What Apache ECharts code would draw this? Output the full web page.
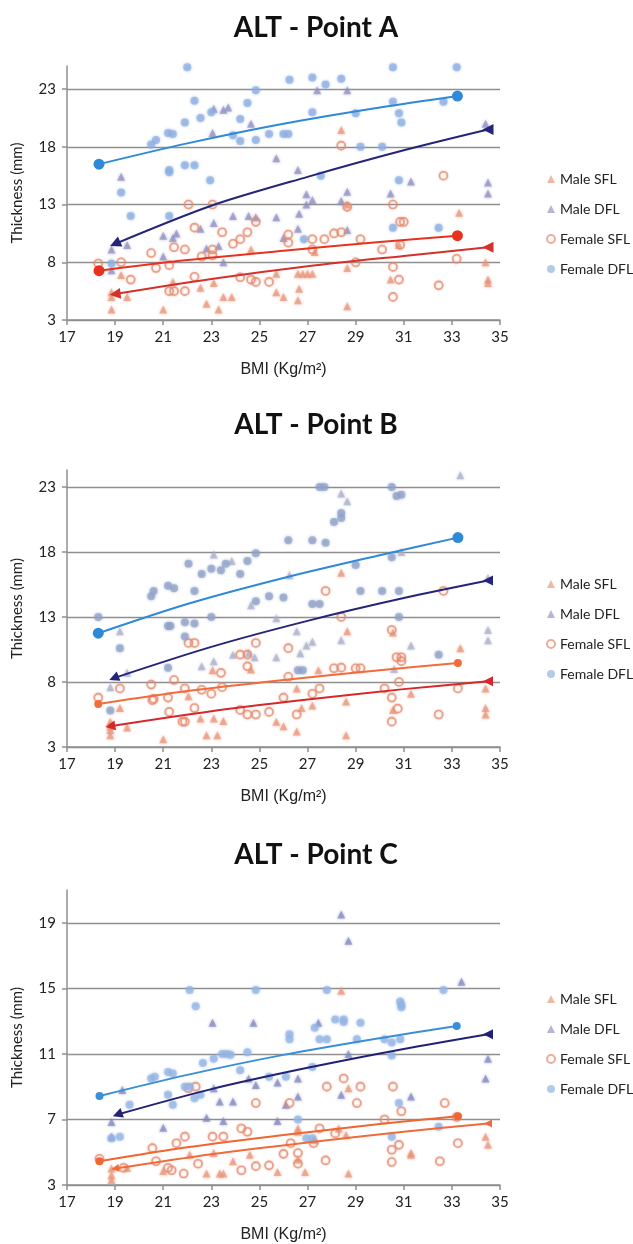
<!DOCTYPE html>
<html>
<head>
<meta charset="utf-8">
<script src="https://cdn.jsdelivr.net/npm/echarts@6/dist/echarts.min.js"></script>
<style>
html,body{margin:0;padding:0;background:#fff;}
#chart{width:633px;height:1244px;}
</style>
</head>
<body>
<div id="chart"></div>
<script>
// ---------- tick labels ----------
const xTicks = [17,19,21,23,25,27,29,31,33,35];
const yTicksAB = [3,8,13,18,23];
const yTicksC = [3,7,11,15,19];
const seriesNames = ['Male SFL','Male DFL','Female SFL','Female DFL'];
const titles = ['ALT - Point A','ALT - Point B','ALT - Point C'];

// ---------- Panel A ----------
const A_maleSFL = [[18.85,3.9],[18.85,5.0],[18.85,5.4],[19.25,6.9],[19.5,5.0],[21.0,3.9],[21.4,6.3],[22.55,5.8],[22.8,4.4],[23.1,6.2],[23.3,3.9],[23.5,5.0],[23.85,5.0],[24.65,9.1],[25.7,5.4],[26.0,5.0],[25.7,7.0],[26.6,4.7],[26.65,5.7],[26.6,7.0],[26.8,7.0],[27.0,7.0],[27.2,7.0],[27.3,8.9],[28.4,19.45],[28.65,7.5],[28.65,4.2],[28.65,13.0],[30.45,6.5],[30.8,9.5],[33.3,12.3],[34.4,8.0],[34.5,6.5],[34.5,6.2]];
const A_maleDFL = [[19.25,15.4],[19.5,9.5],[18.85,9.1],[18.85,7.3],[21.0,8.5],[21.0,10.3],[21.55,10.5],[21.4,10.1],[22.55,10.9],[23.1,11.4],[23.3,9.4],[22.8,9.2],[23.5,8.0],[23.9,12.0],[24.55,12.0],[24.85,11.9],[24.65,20.0],[23.05,19.2],[23.1,21.3],[23.5,21.2],[23.7,21.4],[25.7,11.9],[25.7,17.0],[26.6,16.0],[26.65,12.2],[26.95,13.9],[26.95,13.0],[27.2,13.4],[27.4,22.9],[28.65,22.9],[28.65,14.1],[28.4,13.3],[28.65,10.8],[30.45,13.95],[31.3,15.0],[34.4,20.0],[34.5,14.9],[34.5,13.95],[26.6,10.9],[26.0,10.1]];
const A_femaleSFL = [[18.3,7.9],[19.25,8.0],[19.65,6.5],[20.5,8.8],[20.7,7.5],[21.25,7.75],[21.45,9.3],[21.25,5.5],[21.45,5.5],[21.9,9.1],[21.9,5.5],[22.05,13.0],[22.3,11.0],[22.3,6.75],[22.6,8.5],[23.05,9.1],[23.05,8.6],[23.05,13.0],[23.45,10.6],[23.9,9.6],[24.2,10.0],[24.5,10.6],[24.2,6.7],[24.65,6.5],[24.85,6.3],[24.85,11.5],[25.4,6.3],[26.2,10.4],[26.2,9.7],[27.2,10.0],[27.2,9.1],[27.7,10.0],[28.1,10.5],[28.4,10.6],[28.4,18.1],[28.65,12.8],[29.0,8.0],[29.2,10.0],[30.1,9.1],[30.55,13.0],[30.55,7.6],[30.55,5.0],[30.8,6.5],[30.85,11.5],[31.0,11.5],[30.85,9.5],[32.45,6.0],[32.65,15.5],[33.2,8.3]];
const A_femaleDFL = [[22.0,24.9],[22.3,22.0],[21.9,20.1],[22.55,20.5],[23.0,21.0],[24.5,21.8],[24.2,20.4],[24.85,22.9],[24.85,18.6],[24.2,18.5],[21.2,19.2],[21.4,19.1],[20.5,18.2],[20.7,18.6],[21.25,16.0],[21.25,15.8],[21.9,16.4],[22.3,16.4],[19.25,14.05],[19.65,12.0],[21.25,12.0],[22.95,15.1],[23.9,19.0],[25.4,19.1],[26.0,19.1],[26.2,19.1],[26.25,23.8],[27.2,24.0],[27.75,23.4],[28.4,23.9],[27.2,21.0],[29.0,20.9],[29.2,18.0],[30.1,18.0],[30.55,24.9],[30.55,21.9],[30.8,20.9],[30.9,20.1],[30.8,15.1],[30.55,11.0],[32.45,11.0],[32.65,21.9],[33.2,24.9],[26.85,10.0],[27.55,15.5],[18.85,7.9]];
const A_trendMaleSFL = [[19.0,5.25],[23,6.55],[27,7.65],[31,8.55],[34.5,9.3]];
const A_trendMaleDFL = [[19.0,9.6],[23,12.9],[27,15.4],[31,17.7],[34.5,19.5]];
const A_trendFemaleSFL = [[18.33,7.27],[22,8.2],[26,9.0],[30,9.75],[33.23,10.3]];
const A_trendFemaleDFL = [[18.33,16.5],[22,18.3],[26,20.0],[30,21.4],[33.23,22.4]];

// ---------- Panel B ----------
const B_maleSFL = [[18.8,4.95],[18.8,4.6],[18.8,4.3],[18.8,3.9],[19.2,6.0],[19.5,4.5],[21.0,3.6],[22.05,6.9],[22.55,5.2],[22.8,3.9],[23.25,3.9],[23.1,5.2],[23.5,5.0],[23.05,8.9],[24.65,8.95],[25.7,4.95],[26.0,4.6],[26.55,4.2],[26.55,7.5],[26.75,6.0],[27.2,6.2],[27.45,8.9],[28.4,16.4],[28.65,11.9],[28.6,6.5],[28.6,3.9],[30.55,11.8],[30.55,5.85],[31.3,7.1],[33.35,10.6],[34.4,7.5],[34.4,6.0],[34.4,5.5]];
const B_maleDFL = [[18.8,7.6],[19.2,11.9],[19.5,8.7],[22.6,9.2],[23.1,9.6],[23.1,17.8],[23.85,17.3],[24.65,13.9],[24.55,10.2],[24.8,9.9],[23.9,10.1],[25.7,12.9],[25.7,9.9],[26.25,16.2],[26.55,11.9],[26.7,10.2],[26.95,10.8],[27.2,11.1],[28.4,22.5],[28.65,21.9],[28.4,11.2],[31.3,10.8],[30.9,18.0],[33.35,23.9],[34.5,16.0],[34.5,12.0],[34.5,11.2],[30.6,9.0]];
const B_femaleSFL = [[18.3,6.8],[19.2,7.5],[20.5,7.8],[20.6,6.7],[21.2,6.8],[21.45,8.15],[22.05,11.0],[22.3,11.0],[21.9,7.5],[22.6,7.4],[23.0,7.1],[23.4,8.7],[24.2,10.1],[24.5,10.1],[24.5,9.2],[24.85,11.0],[26.2,10.6],[26.2,8.4],[27.5,7.5],[27.75,15.0],[28.1,9.05],[28.4,9.1],[28.4,13.0],[29.0,9.05],[29.2,9.05],[30.5,12.0],[30.7,9.9],[30.9,9.9],[30.9,9.6],[30.5,6.8],[30.8,8.0],[32.65,15.0],[33.25,7.5],[30.2,7.5],[27.2,7.1],[26.0,6.8],[20.55,6.6],[21.25,5.7],[21.8,4.95],[21.9,4.95],[22.3,6.0],[24.2,5.85],[24.5,5.5],[24.85,5.5],[25.4,5.7],[26.55,5.5],[30.5,4.95],[30.75,5.95],[32.45,5.5],[23.45,7.6]];
const B_femaleDFL = [[18.3,13.0],[19.2,10.6],[20.5,14.6],[20.6,15.0],[21.2,15.4],[21.45,15.2],[21.2,12.3],[21.3,12.3],[21.9,12.6],[21.9,11.5],[22.3,12.5],[22.05,17.1],[22.3,15.0],[22.6,16.3],[23.0,16.7],[23.0,13.0],[23.4,16.6],[23.6,17.1],[24.2,16.3],[24.5,17.3],[24.85,17.9],[24.85,14.2],[25.4,14.6],[26.0,14.5],[26.2,18.9],[27.2,18.9],[27.2,14.0],[27.5,14.0],[27.75,18.7],[27.5,23.0],[27.7,23.0],[28.1,20.3],[28.4,21.0],[28.4,20.6],[29.0,17.0],[29.2,15.0],[30.1,15.0],[30.5,23.0],[30.7,22.3],[30.9,22.4],[30.5,17.6],[30.8,15.0],[30.8,13.0],[32.45,10.1],[26.6,8.9],[26.8,8.9],[21.2,9.1],[18.8,5.8]];
const B_trendMaleSFL = [[18.8,4.6],[23,5.75],[27,6.65],[31,7.45],[34.5,8.05]];
const B_trendMaleDFL = [[18.95,8.3],[23,10.7],[27,12.7],[31,14.45],[34.5,15.8]];
const B_trendFemaleSFL = [[18.3,6.3],[22,7.3],[26,8.15],[30,8.9],[33.25,9.45]];
const B_trendFemaleDFL = [[18.3,11.75],[22,14.0],[26,16.0],[30,17.75],[33.25,19.1]];

// ---------- Panel C ----------
const C_maleSFL = [[28.4,14.85],[28.7,8.9],[26.6,6.45],[31.3,4.95],[18.85,4.0],[18.85,3.6],[18.85,3.3],[19.5,4.05],[21.0,3.85],[22.1,4.85],[22.8,3.7],[23.35,3.7],[23.5,3.7],[23.9,4.45],[24.6,4.85],[25.75,3.8],[26.9,3.8],[26.6,4.55],[28.7,3.7],[31.3,4.85],[34.4,5.95],[34.5,5.45],[27.3,5.75],[28.3,6.45],[28.6,6.05],[23.1,4.95],[26.6,6.25]];
const C_maleDFL = [[28.4,19.5],[28.7,17.9],[33.4,15.4],[23.05,12.9],[24.75,12.9],[27.45,12.9],[28.7,11.0],[28.4,8.5],[31.3,8.4],[34.5,10.7],[34.4,9.5],[26.6,9.5],[26.6,8.4],[24.85,9.1],[24.55,9.5],[25.75,9.25],[23.35,8.1],[23.9,8.1],[22.8,7.1],[23.5,6.9],[21.0,6.5],[25.75,6.9],[18.85,6.85],[18.85,5.95],[19.3,8.8],[23.1,8.9],[26.1,7.9]];
const C_femaleSFL = [[27.8,9.0],[29.2,9.0],[28.5,9.5],[30.55,9.0],[24.85,8.0],[26.25,8.0],[29.05,8.0],[32.7,8.0],[30.9,7.5],[22.05,8.9],[22.35,9.0],[30.2,7.0],[24.25,6.45],[24.5,6.25],[23.05,5.95],[23.5,5.95],[21.9,5.95],[21.55,5.55],[20.55,5.25],[27.5,6.45],[28.15,6.15],[33.25,5.55],[30.8,5.45],[30.5,5.15],[33.2,7.15],[26.3,5.55],[18.35,4.6],[19.35,4.05],[20.7,4.45],[21.2,4.05],[21.35,3.9],[21.85,3.7],[22.45,4.3],[24.25,3.9],[24.85,4.15],[25.4,4.2],[26.0,4.9],[26.6,4.95],[26.6,4.3],[27.75,4.5],[30.5,4.4],[32.5,4.45],[27.25,5.55]];
const C_femaleDFL = [[22.1,14.9],[22.35,13.9],[24.85,14.9],[27.8,14.9],[32.65,14.9],[28.15,13.1],[28.5,13.1],[28.5,12.95],[29.2,12.9],[27.3,12.6],[26.25,12.2],[26.25,11.9],[27.5,11.9],[27.8,11.9],[29.05,11.9],[30.2,11.9],[30.85,14.2],[30.9,14.0],[30.9,13.85],[30.5,11.7],[30.85,11.9],[30.5,10.9],[22.65,10.45],[23.1,10.7],[23.45,11.0],[23.65,11.0],[23.8,10.95],[24.5,11.1],[24.2,10.0],[20.5,9.5],[20.65,9.6],[21.2,9.9],[21.4,9.8],[21.9,9.0],[22.1,9.0],[22.3,8.3],[22.55,8.5],[21.2,8.5],[21.4,7.9],[19.6,7.9],[19.2,5.95],[18.85,5.85],[25.4,9.6],[26.1,9.6],[27.2,10.2],[26.6,7.0],[30.8,8.0],[30.5,5.95],[32.45,6.55],[26.95,5.85],[27.2,5.85]];
const C_trendMaleSFL = [[19.0,4.0],[23,4.88],[27,5.6],[31,6.25],[34.5,6.75]];
const C_trendMaleDFL = [[19.1,7.3],[23,8.85],[27,10.15],[31,11.3],[34.5,12.2]];
const C_trendFemaleSFL = [[18.35,4.45],[22,5.3],[26,6.05],[30,6.72],[33.25,7.2]];
const C_trendFemaleDFL = [[18.35,8.43],[22,9.72],[26,10.94],[30,11.96],[33.2,12.7]];

// ---------- styling / layout ----------
const panels = [
  {grid:{left:67, top:66, width:433, height:254}, yMin:3, yMax:25, yTicks:yTicksAB, titleTop:14, legendTop:167,
   scatter:[A_maleSFL,A_maleDFL,A_femaleSFL,A_femaleDFL],
   trend:[A_trendMaleSFL,A_trendMaleDFL,A_trendFemaleSFL,A_trendFemaleDFL],
   dotColors:['#E89478','#8E8EC2','#E58A6E','#8BADE0'],
   trendColors:['#D5302A','#24247A','#E8321E','#2E8AD8'],
   endSize:[11,11,11,11], arrowRot:[97,114]},
  {grid:{left:67, top:470, width:433, height:277}, yMin:3, yMax:24.3, yTicks:yTicksAB, titleTop:411, legendTop:572,
   scatter:[B_maleSFL,B_maleDFL,B_femaleSFL,B_femaleDFL],
   trend:[B_trendMaleSFL,B_trendMaleDFL,B_trendFemaleSFL,B_trendFemaleDFL],
   dotColors:['#E89478','#A9AEC8','#E58A6E','#8E9FC6'],
   trendColors:['#D6282A','#24247A','#F26B3C','#2E8AD8'],
   endSize:[10,10,8,11], arrowRot:[100,112]},
  {grid:{left:67, top:890, width:433, height:297}, yMin:3, yMax:21, yTicks:yTicksC, titleTop:841, legendTop:987,
   scatter:[C_maleSFL,C_maleDFL,C_femaleSFL,C_femaleDFL],
   trend:[C_trendMaleSFL,C_trendMaleDFL,C_trendFemaleSFL,C_trendFemaleDFL],
   dotColors:['#E89478','#7F86BE','#E58A6E','#92B4E3'],
   trendColors:['#F06A3A','#212274','#F06530','#3A8FD9'],
   endSize:[8,10,8,8], arrowRot:[100,110]}
];

const axisGrey = '#8f8f8f';
const textFont = 'Lato';

function trendData(arr, isMale, size, rotStart) {
  return arr.map((p, i) => {
    const item = {value: p, symbol: 'none'};
    if (i === 0) {
      item.symbol = isMale ? 'triangle' : 'circle';
      item.symbolSize = size;
      if (isMale) item.symbolRotate = rotStart;
    } else if (i === arr.length - 1) {
      item.symbol = isMale ? 'triangle' : 'circle';
      item.symbolSize = size;
      if (isMale) item.symbolRotate = 90;
    }
    return item;
  });
}

const option = {
  animation: false,
  backgroundColor: '#ffffff',
  title: [], grid: [], xAxis: [], yAxis: [], legend: [], series: []
};

panels.forEach((p, gi) => {
  option.title.push({
    text: titles[gi], left: 316, top: p.titleTop, textAlign: 'center', padding: 0,
    textStyle: {fontFamily: textFont, fontWeight: 'bold', fontSize: 28, color: '#111'}
  });
  option.grid.push(p.grid);
  option.xAxis.push({
    type: 'value', gridIndex: gi, min: 17, max: 35,
    name: 'BMI (Kg/m²)', nameLocation: 'middle', nameGap: 42,
    nameTextStyle: {fontFamily: 'Liberation Sans', fontSize: 16, color: '#222'},
    axisLine: {show: true, onZero: false, lineStyle: {color: axisGrey, width: 1.5}},
    axisTick: {show: true, length: 5, inside: false, customValues: xTicks, lineStyle: {color: axisGrey, width: 1.5}},
    axisLabel: {customValues: xTicks, margin: 10, fontFamily: textFont, fontSize: 15, color: '#222'},
    splitLine: {show: false}
  });
  option.yAxis.push({
    type: 'value', gridIndex: gi, min: p.yMin, max: p.yMax,
    name: 'Thickness (mm)', nameLocation: 'middle', nameGap: 42,
    nameTextStyle: {fontFamily: textFont, fontSize: 15, color: '#222'},
    axisLine: {show: true, lineStyle: {color: axisGrey, width: 1.5}},
    axisTick: {show: true, length: 5, customValues: p.yTicks, lineStyle: {color: axisGrey, width: 1.5}},
    axisLabel: {customValues: p.yTicks, margin: 11, fontFamily: textFont, fontSize: 15, color: '#222'},
    splitLine: {show: true, lineStyle: {color: axisGrey, width: 1.3}}
  });
  option.legend.push({
    orient: 'vertical', left: 541, top: p.legendTop, itemWidth: 8, itemHeight: 8, itemGap: 16,
    data: seriesNames, selectedMode: false,
    textStyle: {fontFamily: textFont, fontSize: 14, color: '#222'}
  });
  // scatter series
  p.scatter.forEach((d, si) => {
    const isMale = si < 2;
    const hollow = si === 2;
    option.series.push({
      type: 'scatter', name: seriesNames[si], xAxisIndex: gi, yAxisIndex: gi,
      data: d, symbol: isMale ? 'triangle' : 'circle', symbolSize: 8, silent: true,
      itemStyle: hollow
        ? {color: 'rgba(255,255,255,0)', borderColor: p.dotColors[si], borderWidth: 1.6, opacity: 0.7,
           shadowBlur: 2, shadowColor: p.dotColors[si]}
        : {color: p.dotColors[si], opacity: 0.65, shadowBlur: 3, shadowColor: p.dotColors[si]},
      z: 2
    });
  });
  // trend lines
  p.trend.forEach((d, si) => {
    const isMale = si < 2;
    option.series.push({
      type: 'line', name: seriesNames[si] + ' trend ' + gi, xAxisIndex: gi, yAxisIndex: gi,
      data: trendData(d, isMale, p.endSize[si], p.arrowRot[si]),
      smooth: 0.3, silent: true, showSymbol: true,
      lineStyle: {color: p.trendColors[si], width: 2},
      itemStyle: {color: p.trendColors[si]},
      z: 5
    });
  });
});

const chart = echarts.init(document.getElementById('chart'), null, {renderer: 'canvas'});
chart.setOption(option);
</script>
</body>
</html>
